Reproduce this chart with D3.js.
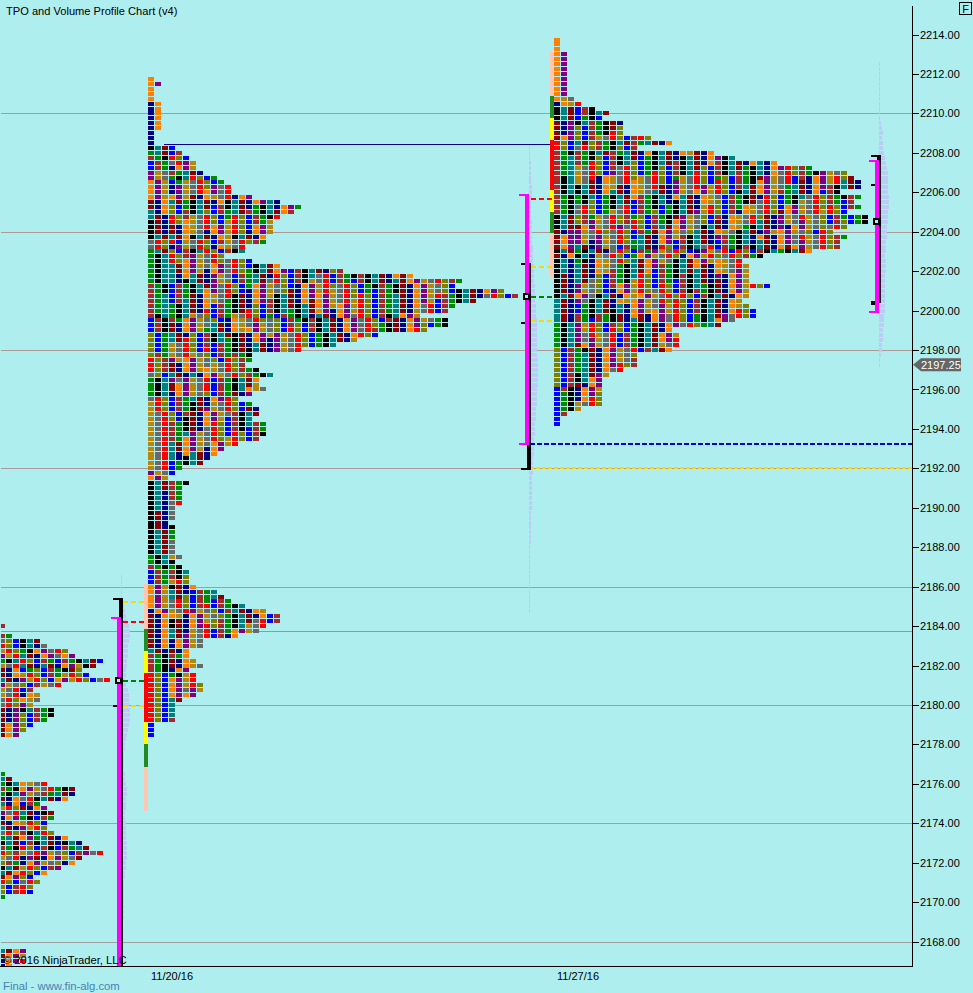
<!DOCTYPE html>
<html><head><meta charset="utf-8">
<script src="https://cdn.jsdelivr.net/npm/d3@7/dist/d3.min.js"></script>
<style>
html,body{margin:0;padding:0;background:#AFEEEE;overflow:hidden}
svg{display:block}
text{font-family:"Liberation Sans",Arial,sans-serif}
</style></head><body>
<script>
// ---------- DATA ----------
const tickPrices = d3.range(2214, 2167, -2);
const gridPrices = [2210, 2204, 2198, 2192, 2186, 2180, 2174, 2168];
const lastPrice = 2197.25;
const dateLabels = ["11/20/16", "11/27/16"];
const dateDays = [0, 7];

const letterCycle = "GKTDNOPYSRLBW";
const letterColors = {G:"#008C00",K:"#000000",T:"#008080",D:"#8B0000",N:"#000080",O:"#FF8000",P:"#800080",Y:"#B8860B",S:"#696969",R:"#FF0000",L:"#808000",B:"#0000FF",W:"#A52A2A"};
const skipColumns = [4, 9, 15, 22, 26, 31, 37, 43, 48, 54];
const patchDrift = [0, 2, 5, 1, 7, 3, 9, 4, 11, 6, 12, 8, 10, 1, 6, 3, 0];

const week1Top = 2211.75;
const week1Counts = [1,2,1,1,1, 2,2,2,2,2,2,1,1,1,
 4,5,6,7,7,8,10,11,12,12,15,19,22,21,19,18,18,18,17,17,
 14,14,11,15,19,28,38,45,44,51,53,47,44,43,39,43,43,40,33,30,27,22,15,15,14,16,18,16,16,17,15,13,15,16,16,15,17,17,17,16,13,11,10,9,8,5,4,3,
 6,5,5,5,5,4,4,4,3,4,4,4,4,4,4,5,4,5,6,6,6,7,10,11,12,14,17,19,19,17,16,13,8,8,6,6,7,8,6,7,7,8,8,7,5,4,4,4,4,1,1,1];
const week1Lead = "OOOOONNNNNNNNNKGWBBPPOOOODDTTKKKKSSGGGGGGGWWWWWWWBBBLLLLLRRRSGGGGSYYYYYYYYYYYYYYPOKKKKKKKKKKKKKKKGGWBBBOOOOONDDDDDDDTWWWWRRRRRRRRRRBBB";

const week2Top = 2213.75;
const week2Counts = [1,1,1,2,2,2,2,2,2,2,2,2,3,4,6,8,7,10,10,10,14,17,12,23,26,32,37,42,43,44,44,41,44,43,44,42,45,45,42,40,42,41,41,37,30,27,28,28,28,28,31,28,28,27,28,29,29,26,24,17,18,18,18,17,12,12,12,10,8,7,7,7,7,7,7,4,2,1,1];
const week2Lead = "OOOOOOOOOOOOONKKKDDDDRRWWWWWWWWWWWWWKKKDDDDKDKKKKKKKKTTTTTGGGGGLLLLLLLLBBBBBBBB";

const priorATop = 2184;
const priorACounts = [1,0,2,6,7,10,11,15,14,12,13,16,9,5,6,6,5,8,8,7,5,4,3];
const priorALead = "WWWSRYPGYDDTPYYSSDDDDDD";
const priorBTop = 2176.5;
const priorBCounts = [1,2,7,11,11,10,6,7,8,8,7,7,8,10,12,13,15,12,11,9,7,5,6,5,5,1];
const priorBLead = "GTGWGDTYPNDTSGKWRYLKTDRLLG";
const priorCTop = 2167.5;
const priorCCounts = [4,4,4,2];
const priorCLead = "TDNN";

const bar1Prices = [2186.125, 2183.875, 2182.75, 2181.625, 2179.125, 2178, 2176.875, 2174.625];
const bar2Prices = [2213.12, 2210.88, 2209.77, 2208.65, 2206.12, 2205, 2203.93, 2201.7];
const barColors = ["#FFC6B2","#228B22","#FFFF00","#FF0000","#FFFF00","#228B22","#FFC6B2"];

const volLeftTop = 2186.5;
const volLeft = [1,1,1,1,1,2,3,4,5,6,8,9,9,8,7,7,7,6,6,5,5,4,5,7,8,8,8,9,9,9,8,7,6,5,4,4,3,3,3,3,4,4,5,6,6,5,5,5,4,4,5,5,5,5,6,6,6,6,5,5,4,4,3,3,3,3,3,3,3,3,2,2,2,2,2,2,2,2,2,2];
const volMidTop = 2208.25;
const volMid = [1,1,1,2,2,2,2,2,3,3,3,2,2,2,2,3,3,3,3,3,4,4,4,4,5,5,5,5,6,6,6,6,7,7,7,8,8,8,8,8,8,8,8,9,9,9,9,9,9,8,8,8,8,7,7,7,6,6,6,5,5,5,5,4,4,4,4,3,3,3,3,3,3,3,2,2,2,2,2,2,2,1,1,1,1,1,1,1,1,1,1,1,1,1,1];
const volRightTop = 2212.5;
const volRight = [1,1,1,1,1,1,1,1,1,1,1,1,2,3,4,3,4,4,5,6,7,8,9,9,9,9,9,10,10,10,9,9,9,8,8,8,7,7,7,6,7,7,7,6,6,6,6,6,6,6,6,5,5,5,4,4,4,3,3,2,1,1];

const sessDay = [-0.534, 6.5, 12.534];
const magentaHi = [2184.47, 2205.9, 2207.64];
const magentaLo = [2166, 2193.2, 2199.9];
const blackHi = [2185.43, 2202.4, 2207.9];
const blackLo = [2166, 2191.9, 2200.4];
const pocPrice = [2181.25, 2200.75, 2204.55];
const tickHi = [null, 2202.4, 2206.4];
const tickLo = [2180, 2199.4, 2200.4];
const dashYellowHi = [2185.25, 2202.25];
const dashRed = [2184.25, 2205.7];
const dashGreen = [2181.25, 2200.75];
const dashYellowLo = [2180, 2199.5];
const nakedHighPrice = 2208.44;
const nakedBluePrice = 2193.25;
const nakedGoldPrice = 2192;
const markerLinePrice = 2183.75;

// ---------- LAYOUT ----------
const W = 973, H = 993, plotR = 912, plotB = 966, bg = "#AFEEEE";
const y = d3.scaleLinear().domain([2215.5, 2166.76]).range([5, plotB]);
const x = d3.scaleLinear().domain([0, 7]).range([148, 554]);
const pitch = 7, cellW = 6, cellH = 4, tick = 0.25;

const svg = d3.select("body").append("svg").attr("width", W).attr("height", H);
svg.append("defs").append("clipPath").attr("id","plot").append("rect")
  .attr("x",1).attr("y",0).attr("width",plotR-1).attr("height",plotB);
const plot = svg.append("g").attr("clip-path","url(#plot)").attr("shape-rendering","crispEdges");

// grid
plot.selectAll("line.grid").data(gridPrices).join("line").attr("class","grid")
  .attr("x1",0).attr("x2",plotR)
  .attr("y1",d=>Math.round(y(d))+0.5).attr("y2",d=>Math.round(y(d))+0.5)
  .attr("stroke",d=>d>=2186?"#AE9898":"#A0A0A0");
plot.append("line").attr("x1",0).attr("x2",plotR)
  .attr("y1",Math.round(y(markerLinePrice))+0.5).attr("y2",Math.round(y(markerLinePrice))+0.5)
  .attr("stroke","#7C9CC8");

// volume bars
function drawVol(top, vals, day){
  const x0 = x(day) + 4;
  plot.append("g").selectAll("rect").data(vals).join("rect")
    .attr("x",x0).attr("y",(d,i)=>Math.round(y(top-i*tick)-2))
    .attr("width",d=>d).attr("height",cellH)
    .attr("fill",(d)=>d<=1?"#B8CEF0":"#BCCCF6");
}
drawVol(volLeftTop, volLeft, sessDay[0]);
drawVol(volMidTop, volMid, sessDay[1]);
drawVol(volRightTop, volRight, sessDay[2]);

// naked level lines
plot.append("line").attr("x1",x(0)+16).attr("x2",x(7)-1)
  .attr("y1",Math.round(y(nakedHighPrice))+0.5).attr("y2",Math.round(y(nakedHighPrice))+0.5).attr("stroke","#000090");
plot.append("line").attr("x1",x(sessDay[1])+5).attr("x2",plotR)
  .attr("y1",Math.round(y(nakedBluePrice))).attr("y2",Math.round(y(nakedBluePrice)))
  .attr("stroke","#0000D0").attr("stroke-width",2).attr("stroke-dasharray","5,2");
plot.append("line").attr("x1",x(sessDay[1])+5).attr("x2",plotR)
  .attr("y1",Math.round(y(nakedGoldPrice))).attr("y2",Math.round(y(nakedGoldPrice)))
  .attr("stroke","#FFD700").attr("stroke-width",1.4).attr("stroke-dasharray","4,2");

// TPO cells: lead colour per row, then the period cycle; patches shift the cycle
function drawProfile(top, counts, lead, x0){
  const cells = [];
  counts.forEach((n,r)=>{
    const start = letterCycle.indexOf(lead[r]);
    let off = start;
    for(let c=0;c<n;c++){
      if(c>0){ off += 1; if(skipColumns.includes(c+start+(r>>2)%5)) off += 1; }
      const patch = c>=3 ? patchDrift[Math.floor(r/4 + c/6) % patchDrift.length] : 0;
      cells.push({r,c,letter:letterCycle[(off+patch)%letterCycle.length]});
    }
  });
  plot.append("g").selectAll("rect").data(cells).join("rect")
    .attr("x",d=>x0+d.c*pitch)
    .attr("y",d=>Math.round(y(top-d.r*tick)-2))
    .attr("width",cellW).attr("height",cellH)
    .attr("fill",d=>letterColors[d.letter]);
}
drawProfile(priorATop, priorACounts, priorALead, -1);
drawProfile(priorBTop, priorBCounts, priorBLead, -1);
drawProfile(priorCTop, priorCCounts, priorCLead, -1);
drawProfile(week1Top, week1Counts, week1Lead, x(0));
drawProfile(week2Top, week2Counts, week2Lead, x(7));

// value-area bars
function drawBar(prices, day){
  plot.append("g").selectAll("rect").data(barColors).join("rect")
    .attr("x",x(day)-4).attr("width",4)
    .attr("y",(d,i)=>Math.round(y(prices[i])))
    .attr("height",(d,i)=>Math.round(y(prices[i+1]))-Math.round(y(prices[i])))
    .attr("fill",d=>d);
}
drawBar(bar1Prices,0); drawBar(bar2Prices,7);

// session dashes
[[dashYellowHi,"#FFD700"],[dashRed,"#FF0000"],[dashGreen,"#008000"],[dashYellowLo,"#FFD700"]].forEach(([arr,col])=>{
  arr.forEach((p,i)=>{
    plot.append("line").attr("x1",x(sessDay[i])+6).attr("x2",x([0,7][i])-1)
      .attr("y1",Math.round(y(p))+1).attr("y2",Math.round(y(p))+1)
      .attr("stroke",col).attr("stroke-width",2).attr("stroke-dasharray","5,3");
  });
});

// session range overlays
sessDay.forEach((d,i)=>{
  const X = Math.round(x(d));
  const g = plot.append("g");
  const yb0=Math.round(y(blackHi[i])), yb1=Math.min(Math.round(y(blackLo[i])),plotB);
  const ym0=Math.round(y(magentaHi[i])), ym1=Math.min(Math.round(y(magentaLo[i])),plotB);
  g.append("rect").attr("x",X+2).attr("y",yb0).attr("width",4).attr("height",yb1-yb0).attr("fill","#000");
  g.append("rect").attr("x",X-4).attr("y",yb0).attr("width",10).attr("height",2).attr("fill","#000");
  if(blackLo[i]>2170) g.append("rect").attr("x",X-4).attr("y",yb1-2).attr("width",10).attr("height",2).attr("fill","#000");
  if(tickHi[i]!==null) g.append("rect").attr("x",X-4).attr("y",Math.round(y(tickHi[i]))).attr("width",4).attr("height",2).attr("fill","#000");
  g.append("rect").attr("x",X-4).attr("y",Math.round(y(tickLo[i]))).attr("width",4).attr("height",2).attr("fill","#000");
  g.append("rect").attr("x",X).attr("y",ym0).attr("width",4).attr("height",ym1-ym0).attr("fill","#FF00FF");
  g.append("rect").attr("x",X-6).attr("y",ym0).attr("width",10).attr("height",2).attr("fill","#FF00FF");
  if(magentaLo[i]>2170) g.append("rect").attr("x",X-6).attr("y",ym1-2).attr("width",10).attr("height",2).attr("fill","#FF00FF");
  g.append("rect").attr("x",X-1).attr("y",Math.round(y(pocPrice[i]))-2.5).attr("width",5).attr("height",5)
    .attr("fill",bg).attr("stroke","#000").attr("stroke-width",2);
});

// axes
const yAxis = d3.axisRight(y).tickValues(tickPrices).tickFormat(d3.format(".2f")).tickSize(7).tickSizeOuter(0).tickPadding(1);
const ga = svg.append("g").attr("transform",`translate(${plotR},0)`).call(yAxis);
ga.selectAll("text").attr("font-size",11).attr("fill","#000");
ga.selectAll(".tick text").attr("font-family",'"Liberation Sans",Arial,sans-serif');
ga.select(".domain").attr("stroke","#000").attr("shape-rendering","crispEdges");
ga.selectAll("line").attr("stroke","#000").attr("shape-rendering","crispEdges");

svg.append("line").attr("x1",0).attr("x2",plotR).attr("y1",plotB+0.5).attr("y2",plotB+0.5)
  .attr("stroke","#000").attr("shape-rendering","crispEdges");
svg.selectAll("text.date").data(dateLabels).join("text").attr("class","date")
  .attr("x",(d,i)=>x(dateDays[i])+3).attr("y",980).attr("font-size",11).attr("fill","#000").text(d=>d);

// last price tag
const ty = y(lastPrice);
svg.append("path").attr("fill","#666666")
  .attr("d",`M${plotR+1},${ty} L${plotR+9},${ty-6.5} H961 V${ty+6.5} H${plotR+9} Z`);
svg.append("text").attr("x",921).attr("y",ty+4).attr("font-size",11).attr("fill","#fff").text(lastPrice.toFixed(2));

// labels
svg.append("text").attr("x",6).attr("y",15).attr("font-size",11.1).attr("fill","#000").text("TPO and Volume Profile Chart (v4)");
svg.append("text").attr("x",3).attr("y",964).attr("font-size",11.2).attr("fill","#000").text("\u00A9 2016 NinjaTrader, LLC");
svg.append("text").attr("x",3).attr("y",990).attr("font-size",11.3).attr("fill","#4682B4").text("Final - www.fin-alg.com");
svg.append("rect").attr("x",959.5).attr("y",2.5).attr("width",12).attr("height",12).attr("fill","none").attr("stroke","#000").attr("shape-rendering","crispEdges");
svg.append("text").attr("x",965.5).attr("y",12.5).attr("text-anchor","middle").attr("font-size",11).attr("fill","#000").text("F");
</script>
</body></html>
